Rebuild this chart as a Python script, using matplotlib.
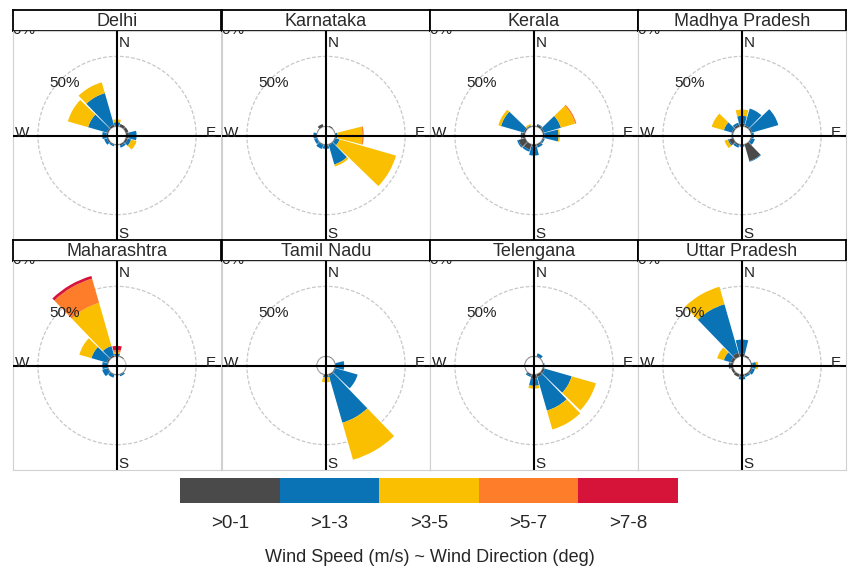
import numpy as np
import matplotlib
matplotlib.use("Agg")
import matplotlib.pyplot as plt
from matplotlib.patches import Wedge, Circle

plt.rcParams['font.family'] = ['Liberation Sans', 'DejaVu Sans']

# Wind direction sectors (deg, clockwise from north) and speed bins (m/s)
directions = [0, 30, 60, 90, 120, 150, 180, 210, 240, 270, 300, 330]
speed_labels = ['>0-1', '>1-3', '>3-5', '>5-7', '>7-8']
speed_colors = ['#4A4A4A', '#0A73B6', '#F9BF00', '#FD7D2A', '#D6143A']

# Frequency (%) per sector, one row per direction, one column per speed bin
delhi = [[0.5, 2.5, 2, 0, 0], [2, 0, 0, 0, 0], [2, 0, 0, 0, 0], [2, 5.5, 0, 0, 0],
         [1.5, 2.5, 4, 0, 0], [1, 1.5, 0, 0, 0], [0.5, 0, 0, 0, 0], [0.5, 1, 0, 0, 0],
         [1, 2, 0, 0, 0], [1, 3, 0, 0, 0], [1, 14, 15, 0, 0], [1.5, 23.5, 8, 0, 0]]
karnataka = [[0.3, 0, 0, 0, 0], [0.7, 0, 0, 0, 0], [0.3, 0, 0, 0, 0], [0.5, 1, 18, 1, 0],
             [0.5, 3, 42, 0, 0], [0.5, 14.5, 1.5, 0, 0], [0.5, 2.5, 0, 0, 0], [0.5, 3, 0, 0, 0],
             [0.3, 2, 0, 0, 0], [0.5, 2, 0, 0, 0], [0.3, 0, 0, 0, 0], [2, 0, 0, 0, 0]]
kerala = [[0.5, 0, 0, 0, 0], [1.5, 0.5, 0, 0, 0], [1, 12.5, 10.5, 1, 0], [1, 10, 1, 0, 0],
          [0.5, 1, 0, 0, 0], [1, 1.5, 0, 0, 0], [1.5, 6.3, 0, 0, 0], [4, 1.5, 0, 0, 0],
          [5, 1, 0, 0, 0], [2, 1, 0, 0, 0], [1, 17, 2, 0, 0], [0.5, 0.5, 1, 0, 0]]
madhya_pradesh = [[2, 5.5, 4.5, 0, 0], [1, 12.5, 0, 0, 0], [1, 19.5, 0, 0, 0], [0.5, 1.5, 0, 0, 0],
                  [0.5, 2.5, 0, 0, 0], [12.5, 0.5, 0, 0, 0], [0.5, 1, 0, 0, 0], [1, 1.5, 0, 0, 0],
                  [3, 1, 2.5, 0, 0], [0.5, 0.5, 0, 0, 0], [1, 6, 9, 0, 0], [1.5, 1.5, 0, 0, 0]]
maharashtra = [[0.5, 1.5, 1, 1.5, 3], [0.5, 0, 0, 0, 0], [0, 0, 0, 0, 0], [0, 0, 0, 0, 0],
               [0.3, 0, 0, 0, 0], [0.5, 1, 0, 0, 0], [0.5, 0, 0, 0, 0], [0.5, 2, 0, 0, 0],
               [0.5, 4, 0, 0, 0], [0.5, 3.5, 0, 0, 0], [1, 11.5, 9, 0, 0], [1, 7, 32, 18, 2]]
tamil_nadu = [[0.3, 0, 0, 0, 0], [0.3, 0, 0, 0, 0], [0.3, 0, 0, 0, 0], [0.5, 6, 0, 0, 0],
              [0.5, 16.5, 0, 0, 0], [1, 35, 27.5, 0, 0], [1, 1, 3.5, 0, 0], [0.3, 0, 0, 0, 0],
              [0.2, 0, 0, 0, 0], [0.2, 0, 0, 0, 0], [0.2, 0, 0, 0, 0], [0.2, 0, 0, 0, 0]]
telengana = [[0.3, 0, 0, 0, 0], [0.5, 2, 0, 0, 0], [0.3, 0, 0, 0, 0], [0.5, 0.5, 0, 0, 0],
             [1.5, 20, 18, 0, 0], [2, 25, 14, 0, 0], [3, 5, 2, 0, 0], [1, 1, 0, 0, 0],
             [0.3, 0, 0, 0, 0], [0.3, 0, 0, 0, 0], [0.3, 0, 0, 0, 0], [0.3, 0, 0, 0, 0]]
uttar_pradesh = [[2, 10, 0, 0, 0], [1, 0, 0, 0, 0], [0.5, 0, 0, 0, 0], [1, 2.5, 1.5, 0, 0],
                 [1, 2, 0, 0, 0], [1, 1, 0, 0, 0], [1.5, 2, 0, 0, 0], [2, 0, 0, 0, 0],
                 [1.5, 0, 0, 0, 0], [2, 1, 0, 0, 0], [2, 5, 5, 0, 0], [3, 36, 13, 0, 0]]

states = ['Delhi', 'Karnataka', 'Kerala', 'Madhya Pradesh',
          'Maharashtra', 'Tamil Nadu', 'Telengana', 'Uttar Pradesh']
freqs = [delhi, karnataka, kerala, madhya_pradesh,
         maharashtra, tamil_nadu, telengana, uttar_pradesh]

W, H = 848, 575
fig = plt.figure(figsize=(W / 100, H / 100), dpi=100)

offset = 6.5      # inner calm circle radius, in % units
half_w = 14       # half width of each sector wedge (deg)
lim_x, lim_y = 74.3, 74.6

col_left = [13, 222, 430, 638]
row_top = [31, 261]
pw, ph, sh = 208, 209, 21


def px_box(x, y, w, h):
    return [x / W, 1 - (y + h) / H, w / W, h / H]


for i, (name, data) in enumerate(zip(states, freqs)):
    r, c = divmod(i, 4)
    x0, y0 = col_left[c], row_top[r]

    # strip with the state name
    sax = fig.add_axes(px_box(x0, y0 - sh, pw, sh))
    sax.set_xticks([])
    sax.set_yticks([])
    for sp in sax.spines.values():
        sp.set_linewidth(1.3)
        sp.set_color('black')
    sax.text(0.5, 0.45, name, ha='center', va='center', fontsize=13, color='#2b2b2b')

    ax = fig.add_axes(px_box(x0, y0, pw, ph))
    ax.set_xlim(-lim_x, lim_x)
    ax.set_ylim(-lim_y, lim_y)
    ax.set_xticks([])
    ax.set_yticks([])
    for sp in ax.spines.values():
        sp.set_color('#d0d0d0')
        sp.set_linewidth(0.8)

    # grid circles
    ax.add_patch(Circle((0, 0), offset + 50, fill=False, ec='#c8c8c8', lw=0.9, ls=(0, (3, 1.5))))
    ax.add_patch(Circle((0, 0), offset, fill=False, ec='#c8c8c8', lw=0.9))
    ax.text(-37.5, 37.5, '50%', ha='center', va='center', fontsize=11, color='#222222')
    ax.text(-72, 75.5, '100%', ha='center', va='center', fontsize=11, color='#222222', clip_on=True)

    # stacked wedges
    arr = np.array(data, dtype=float)
    cum = np.cumsum(arr, axis=1)
    for d, row_vals, row_cum in zip(directions, arr, cum):
        t1, t2 = 90 - (d + half_w), 90 - (d - half_w)
        for j in range(len(speed_labels)):
            if row_vals[j] <= 0:
                continue
            outer = offset + row_cum[j]
            ax.add_patch(Wedge((0, 0), outer, t1, t2, width=row_vals[j],
                               fc=speed_colors[j], ec='none', zorder=2))

    ax.axhline(0, color='black', lw=1.5, zorder=3)
    ax.axvline(0, color='black', lw=1.5, zorder=3)
    ax.text(1.2, 63.2, 'N', ha='left', va='baseline', fontsize=11, color='#222222', zorder=4)
    ax.text(1.2, -73.2, 'S', ha='left', va='baseline', fontsize=11, color='#222222', zorder=4)
    ax.text(-73.0, -1.4, 'W', ha='left', va='baseline', fontsize=11, color='#222222', zorder=4)
    ax.text(70.5, -1.4, 'E', ha='right', va='baseline', fontsize=11, color='#222222', zorder=4)

# speed key
kax = fig.add_axes(px_box(180, 478, 498, 25))
kax.bar(range(len(speed_labels)), 1, width=1, color=speed_colors)
kax.set_xlim(-0.5, len(speed_labels) - 0.5)
kax.set_ylim(0, 1)
kax.set_yticks([])
kax.set_xticks(range(len(speed_labels)), speed_labels, fontsize=13.5, color='#262626')
kax.tick_params(axis='x', length=0, pad=9)
for sp in kax.spines.values():
    sp.set_visible(False)

fig.text(430 / W, 1 - 558 / H, 'Wind Speed (m/s) ~ Wind Direction (deg)',
         ha='center', va='center', fontsize=13, color='#262626')

fig.savefig('out.png', dpi=100)
